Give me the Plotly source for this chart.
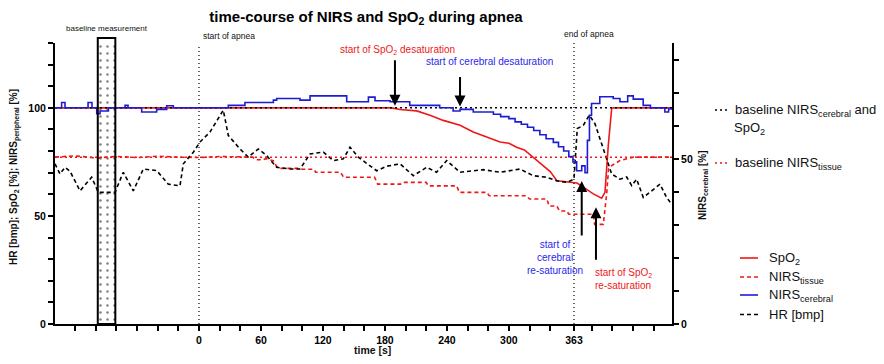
import plotly.graph_objects as go

# ---------------- data ----------------
# SpO2 [%] (left axis)
t_spo2 = [-139.4, 186.5, 194.6, 210.7, 223.6, 236.5, 252.7, 265.5, 278.5, 291.4, 300.0,
          307.5, 315.0, 323.6, 333.3, 340.0, 346.5, 366.0, 372.0, 381.7, 389.8, 393.0,
          396.2, 399.5, 401.0, 457.9]
spo2 = [100, 100, 99.2, 98.6, 96.6, 94.2, 91.9, 88.8, 86.5, 84.2, 83.6,
        81.8, 80.5, 77.2, 73.3, 70.5, 66.3, 65.2, 63.3, 60.2, 58.2, 60.9,
        82.6, 99.7, 100, 100]

# NIRS tissue [%] (left axis)
t_tissue = [-139.4, -120, -100, -80, -60, -40, -20, 0, 20, 40, 52, 55, 62, 65, 72, 75, 78,
            97.8, 100, 111, 113, 137, 140, 170, 173, 195, 197, 220, 222, 249.5, 252,
            278.5, 281, 317, 320, 336.8, 339, 346.5, 349, 356, 358, 381.7, 383, 391.4,
            394.6, 396.5, 399.5, 407.5, 420.4, 457.9]
nirs_tissue = [77.2, 77.8, 76.8, 77.5, 77.0, 77.6, 77.2, 77.0, 77.5, 77.2, 77.2, 76.0, 76.0,
               76.5, 75.5, 73.0, 72.0, 72.0, 71.6, 71.6, 70.2, 70.2, 67.9, 67.9, 64.7, 64.7,
               65.5, 65.5, 63.9, 63.9, 60.9, 60.9, 59.3, 59.3, 57.8, 57.8, 54.6, 54.6, 52.3,
               52.3, 50.8, 50.8, 46.1, 46.1, 60.0, 71.7, 73.3, 75.6, 77.2, 77.2]

# NIRS cerebral [%] (right axis, step trace)
t_cereb = [-139.4, -133, -129.7, -107.4, -103.6, -99, -95.8, -87.7, -71.6, -68.7, -55.5,
           -41, -31.3, -24.9, 28.4, 44.5, 72, 75.2, 97.8, 107.5, 143, 164, 170.4, 185,
           204, 233, 246, 252.7, 265.5, 285, 292, 300, 306, 312, 318, 324, 330, 336, 343,
           348, 353, 358, 362, 365.6, 370.5, 373.7, 376, 378, 380, 388, 401, 407.5, 415,
           420.4, 430, 437, 451, 454.6, 457.9]
nirs_cerebral = [65.5, 67.1, 65.5, 67.1, 65.5, 63.7, 64.5, 65.5, 66.2, 65.5, 64.2,
                 65.0, 66.1, 65.5, 66.2, 67.1, 67.8, 68.3, 67.8, 69.1, 67.3, 68.7, 67.6, 67.3,
                 66.2, 65.5, 64.5, 65.0, 64.2, 63.5, 62.8, 62.2, 61.2, 60.5, 59.6, 58.6, 57.3,
                 56.1, 55.0, 53.7, 52.4, 50.7, 49.1, 46.4, 47.9, 45.8, 55.6, 63.2, 66.8,
                 68.8, 68.3, 67.3, 69.1, 68.1, 66.2, 65.5, 64.2, 65.1, 65.1]

# heart rate [bpm] (left axis)
t_hr = [-139.4, -134.6, -129.7, -124.9, -115.2, -103.9, -97.5, -81.3, -73.3, -63.6, -53.9,
        -41, -29.7, -18.4, -15.2, -5.5, 1, 10.6, 23.5, 28.4, 39.7, 47.7, 57.4, 65.5, 75.2,
        88.1, 97.8, 107.5, 120.4, 130, 139.7, 146.2, 154.2, 172, 181.7, 194.6, 207.5,
        220.4, 230, 239.8, 252.7, 275.2, 291.4, 310.7, 323.6, 336.6, 346.3, 356, 363,
        366.2, 372, 377.9, 383.3, 388.2, 394.7, 399.5, 407.5, 414, 418.9, 423.7, 430.1,
        439.8, 446.3, 452.7, 457.6]
hr = [74.1, 69.4, 72.5, 70.7, 61.6, 67.9, 60.9, 60.9, 70.2, 61.6, 71.7,
      71.0, 64.7, 63.9, 74.1, 79.5, 84.2, 88.8, 98.9, 87.2, 81.0, 77.2, 81.0, 77.9, 72.5,
      71.7, 71.7, 78.7, 79.5, 75.6, 76.4, 81.8, 77.2, 70.9, 73.0, 74.1, 68.6,
      72.5, 70.2, 75.6, 70.2, 71.4, 70.2, 71.7, 68.6, 67.9, 66.3, 65.5, 67.0,
      90.4, 91.9, 96.6, 92.7, 85.7, 76.4, 69.4, 67.0, 68.0, 64.0, 67.0, 58.5,
      62.4, 64.7, 58.5, 55.4]

baseline_cerebral_spo2 = 100.0
baseline_tissue = 77.2
baseline_window = [-98.0, -81.0]
apnea_start = 0
apnea_end = 363
events = {"spo2_desat": (189.7, 101.0), "cereb_desat": (252.7, 100.6),
          "cereb_resat": (370.5, 66.1), "spo2_resat": (384.3, 54.0)}

x_range = [-139.4, 457.9]
y_range = [0, 130]
y2_range = [0, 85.1]
x_labelled = [0, 60, 120, 180, 240, 300, 363]
x_minor = [v for v in range(-120, 460, 20) if v not in (0, 60, 120, 180, 240, 300, 360)]
y_labelled = [0, 50, 100]
y_minor = [v for v in range(0, 131, 10) if v not in y_labelled]
y2_labelled = [0, 50]
y2_minor = [v for v in range(0, 81, 10) if v not in y2_labelled]

# ---------------- styles ----------------
RED = "rgb(238,24,24)"
BLUE = "rgb(28,28,210)"
BLACK = "black"
FONT = "Liberation Sans, Arial, sans-serif"
DASH = "4px,3px"
DOT = "2px,3px"

fig = go.Figure()

# dotted-filled baseline measurement window
fig.add_trace(go.Scatter(
    x=[baseline_window[0], baseline_window[1], baseline_window[1], baseline_window[0], baseline_window[0]],
    y=[y_range[0], y_range[0], y_range[1], y_range[1], y_range[0]],
    mode="lines", fill="toself", line=dict(width=0), fillcolor="white",
    fillpattern=dict(shape=".", fgcolor="black", bgcolor="white", size=7, solidity=0.1),
    hoverinfo="skip", showlegend=False))

fig.add_trace(go.Scatter(x=t_spo2, y=spo2, mode="lines", name="SpO2",
                         line=dict(color=RED, width=1.6), showlegend=False))
fig.add_trace(go.Scatter(x=t_tissue, y=nirs_tissue, mode="lines", name="NIRS tissue",
                         line=dict(color=RED, width=1.6, dash=DASH), showlegend=False))
fig.add_trace(go.Scatter(x=t_cereb, y=nirs_cerebral, mode="lines", name="NIRS cerebral",
                         yaxis="y2", line=dict(color=BLUE, width=1.6, shape="hv"), showlegend=False))
fig.add_trace(go.Scatter(x=t_hr, y=hr, mode="lines", name="HR",
                         line=dict(color=BLACK, width=1.6, dash=DASH), showlegend=False))
fig.add_trace(go.Scatter(x=x_range, y=[baseline_cerebral_spo2] * 2, mode="lines",
                         line=dict(color=BLACK, width=1.5, dash=DOT), showlegend=False))
fig.add_trace(go.Scatter(x=x_range, y=[baseline_tissue] * 2, mode="lines",
                         line=dict(color=RED, width=1.5, dash=DOT), showlegend=False))

# pixel helpers for layout positions (plot area 55..672 x, 43..324 y)
L, R, T, B = 55, 672, 43, 324
def px(xp):
    return (xp - L) / (R - L)
def py(yp):
    return (B - yp) / (B - T)

shapes = [
    dict(type="rect", xref="x", yref="paper", x0=baseline_window[0], x1=baseline_window[1],
         y0=0, y1=py(38), line=dict(color="black", width=2), layer="above"),
    dict(type="line", xref="x", yref="paper", x0=apnea_start, x1=apnea_start, y0=0, y1=py(45),
         line=dict(color="black", width=1.2, dash="1px,3px")),
    dict(type="line", xref="x", yref="paper", x0=apnea_end, x1=apnea_end, y0=0, y1=py(43),
         line=dict(color="black", width=1.2, dash="1px,3px")),
]

# manual legend
leg = [
    (715, 727, 110, BLACK, DOT),
    (715, 727, 163, RED, DOT),
    (740, 758, 258, RED, None),
    (740, 758, 277, RED, DASH),
    (740, 758, 295, BLUE, None),
    (740, 758, 314.5, BLACK, DASH),
]
for x0, x1, yy, c, d in leg:
    ln = dict(color=c, width=1.6)
    if d:
        ln["dash"] = d
    shapes.append(dict(type="line", xref="paper", yref="paper", x0=px(x0), x1=px(x1),
                       y0=py(yy), y1=py(yy), line=ln))

ann = []
def A(text, x, y, xref="paper", yref="paper", size=13, color="#111", xanchor="left",
      yanchor="middle", bold=False, angle=0, align="left"):
    ann.append(dict(text=text, x=x, y=y, xref=xref, yref=yref, showarrow=False,
                    xanchor=xanchor, yanchor=yanchor, textangle=angle, align=align,
                    font=dict(family=FONT, size=size, color=color,
                              weight="bold" if bold else "normal")))

A("baseline NIRS<sub>cerebral</sub> and", px(733), py(110))
A("SpO<sub>2</sub>", px(732), py(128))
A("baseline NIRS<sub>tissue</sub>", px(733), py(163))
A("SpO<sub>2</sub>", px(767), py(258))
A("NIRS<sub>tissue</sub>", px(767), py(277))
A("NIRS<sub>cerebral</sub>", px(767), py(295))
A("HR [bmp]", px(767), py(314.5))

# axis titles
A("HR [bmp]; SpO<sub>2</sub> [%]; NIRS<sub>peripheral</sub> [%]", px(14), py(177),
  size=10, bold=True, angle=-90, xanchor="center")
A("NIRS<sub>cerebral</sub> [%]", px(703), py(185), size=10, bold=True, angle=-90,
  xanchor="center")
A("time [s]", px(372), py(350), size=10.5, bold=True, xanchor="center")

# event labels
A("baseline measurement", -89, py(29), xref="x", size=8, xanchor="center")
A("start of apnea", apnea_start + 2, py(36), xref="x", size=8.5)
A("end of apnea", 351.4, py(34), xref="x", size=8.5)
A("start of SpO<sub>2</sub> desaturation", 192.6, 126.7, xref="x", yref="y", size=10,
  color=RED, xanchor="center")
A("start of cerebral desaturation", 281.7, 121.6, xref="x", yref="y", size=10,
  color="rgb(40,40,235)", xanchor="center")
A("start of<br>cerebral<br>re-saturation", 344.6, 30.7, xref="x", yref="y", size=10,
  color="rgb(40,40,235)", xanchor="center", align="center")
A("start of SpO<sub>2</sub><br>re-saturation", 381.4, 21.0, xref="x", yref="y", size=10,
  color=RED, xanchor="left")

# arrows
for (ex, ey), ay in zip(events.values(), [-47, -31, 56, 54]):
    ann.append(dict(text="", x=ex, y=ey, xref="x", yref="y", ax=0, ay=ay,
                    showarrow=True, arrowhead=2, arrowsize=1.1, arrowwidth=2,
                    arrowcolor="black"))

def axis_common(minor_vals):
    return dict(showline=True, linewidth=2, linecolor="black", ticks="outside",
                ticklen=5, tickwidth=1.5, tickcolor="black", showgrid=False,
                zeroline=False,
                minor=dict(tickvals=minor_vals, ticks="outside", ticklen=5, tickwidth=1.5,
                           tickcolor="black", showgrid=False),
                tickfont=dict(family=FONT, size=10.5, color="black", weight="bold"))

fig.update_layout(
    width=884, height=364,
    margin=dict(l=L, r=884 - R, t=T, b=364 - B, autoexpand=False),
    paper_bgcolor="white", plot_bgcolor="white",
    showlegend=False,
    title=dict(text="time-course of NIRS and SpO<sub>2</sub> during apnea",
               x=366 / 884, y=1 - 17 / 364, xanchor="center", yanchor="middle",
               xref="container", yref="container",
               font=dict(family=FONT, size=15, color="black", weight="bold")),
    xaxis=dict(range=x_range, tickmode="array", tickvals=x_labelled,
               ticktext=[str(v) for v in x_labelled], **axis_common(x_minor)),
    yaxis=dict(range=y_range, tickmode="array", tickvals=y_labelled,
               ticktext=[str(v) for v in y_labelled], **axis_common(y_minor)),
    yaxis2=dict(range=y2_range, overlaying="y", side="right", tickmode="array",
                tickvals=y2_labelled, ticktext=[str(v) for v in y2_labelled],
                **axis_common(y2_minor)),
    shapes=shapes,
    annotations=ann,
)

fig.write_html("out.html")
